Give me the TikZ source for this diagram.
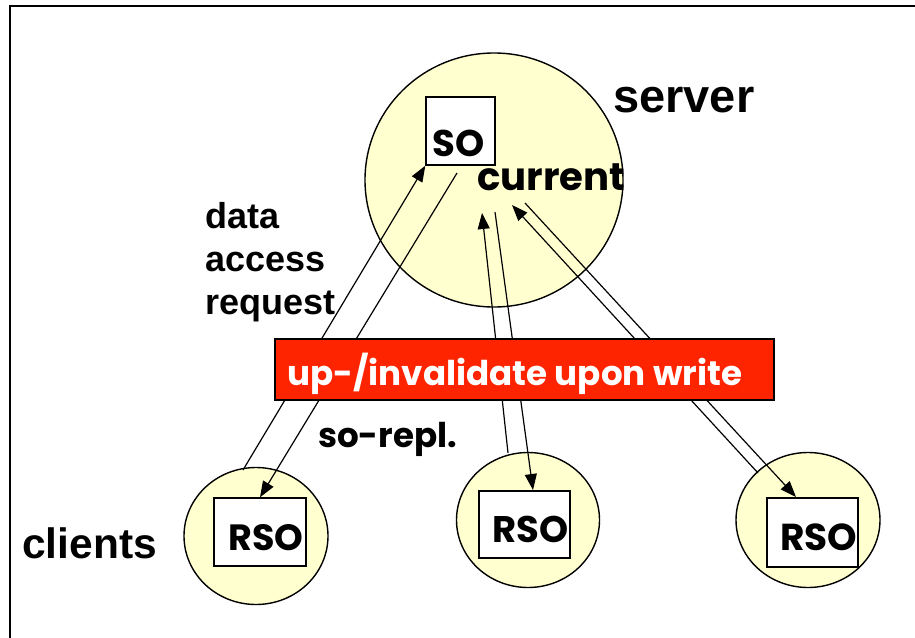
\documentclass[tikz,border=0pt]{standalone}
\usepackage{graphicx}
\usepackage{fontspec}
\setmainfont{Liberation Sans}
\newfontfamily\comicfont{Poppins}
\usetikzlibrary{arrows.meta,calc,shapes.geometric}

\definecolor{cellfill}{RGB}{255,255,208}
\definecolor{alertred}{RGB}{255,36,0}

% scale a label to a given width, keeping its baseline
\newcommand\fitw[2]{\resizebox{#1pt}{!}{#2}}

\tikzset{
  cell/.style={ellipse, draw, line width=1.4pt, fill=cellfill, inner sep=0pt},
  objbox/.style={rectangle, draw, line width=1.4pt, fill=white, inner sep=0pt},
  flow/.style={line width=1.2pt, -{Triangle[length=16pt,width=12pt]}},
  plainlbl/.style={anchor=base west, inner sep=0pt, font=\bfseries},
  comiclbl/.style={anchor=base west, inner sep=0pt, font=\comicfont\bfseries},
}

\begin{document}
\begin{tikzpicture}[x=1pt,y=-1pt]
\useasboundingbox (0,0) rectangle (915,637);

% frame (open towards the right and bottom edges)
\draw[line width=2.4pt] (10,660) -- (10,6) -- (940,6);

% server and client cells
\node[cell, minimum width=258pt, minimum height=254pt] (server) at (494,180) {};
\node[cell, minimum width=144pt, minimum height=137pt] (c1) at (256,536) {};
\node[cell, minimum width=143pt, minimum height=135pt] (c2) at (528,520) {};
\node[cell, minimum width=144pt, minimum height=135pt] (c3) at (808,520) {};

% object boxes
\node[objbox, minimum width=69pt, minimum height=68pt] (so) at (460.5,131) {};
\node[objbox, minimum width=92pt, minimum height=68pt] (r1) at (260,532) {};
\node[objbox, minimum width=91pt, minimum height=67pt] (r2) at (524.5,524.5) {};
\node[objbox, minimum width=91pt, minimum height=69pt] (r3) at (812.5,532.5) {};

% box labels
\node[comiclbl] (tso) at (432,156) {\fitw{52}{SO}};
\node[comiclbl] (tr1) at (228,550) {\fitw{75}{RSO}};
\node[comiclbl] (tr2) at (492,542) {\fitw{76}{RSO}};
\node[comiclbl] (tr3) at (780,550) {\fitw{77}{RSO}};
\node[comiclbl] (tcur) at (477,190) {\fitw{148}{current}};

% arrow end points
\coordinate (u1) at (243,470);
\coordinate (d1) at (457,173);
\coordinate (u2) at (508,453);
\coordinate (t2) at (482,213);
\coordinate (d2) at (495,212);
\coordinate (h2) at (533,490);
\coordinate (u3) at (758,473);
\coordinate (t3) at (512,205);
\coordinate (d3) at (525,203);
\coordinate (h3) at (796,497);

% request / replica flows
\draw[flow] (u1) -- (so.south west);
\draw[flow] (d1) -- (r1.north);
\draw[flow] (u2) -- (t2);
\draw[flow] (d2) -- (h2);
\draw[flow] (u3) -- (t3);
\draw[flow] (d3) -- (h3);

% write policy banner
\node[rectangle, draw, line width=1.4pt, fill=alertred, minimum width=499pt,
      minimum height=61pt, inner sep=0pt] (banner) at (524.5,369.5) {};
\node[comiclbl, text=white] (tban) at (287,385) {\fitw{455}{up-/invalidate upon write}};

% free labels
\node[plainlbl, font=\bfseries\fontsize{47}{50}\selectfont] (tserver) at (613,112) {server};
\node[plainlbl, font=\bfseries\fontsize{36}{40}\selectfont] (ta1) at (205,228) {data};
\node[plainlbl, font=\bfseries\fontsize{36}{40}\selectfont] (ta2) at (205,271) {access};
\node[plainlbl, font=\bfseries\fontsize{36}{40}\selectfont] (ta3) at (205,314) {request};
\node[plainlbl, font=\bfseries\fontsize{42.5}{45}\selectfont] (tcl) at (22,558) {clients};
\node[comiclbl] (trepl) at (318,447) {\fitw{139}{so-repl.}};
\end{tikzpicture}
\end{document}
